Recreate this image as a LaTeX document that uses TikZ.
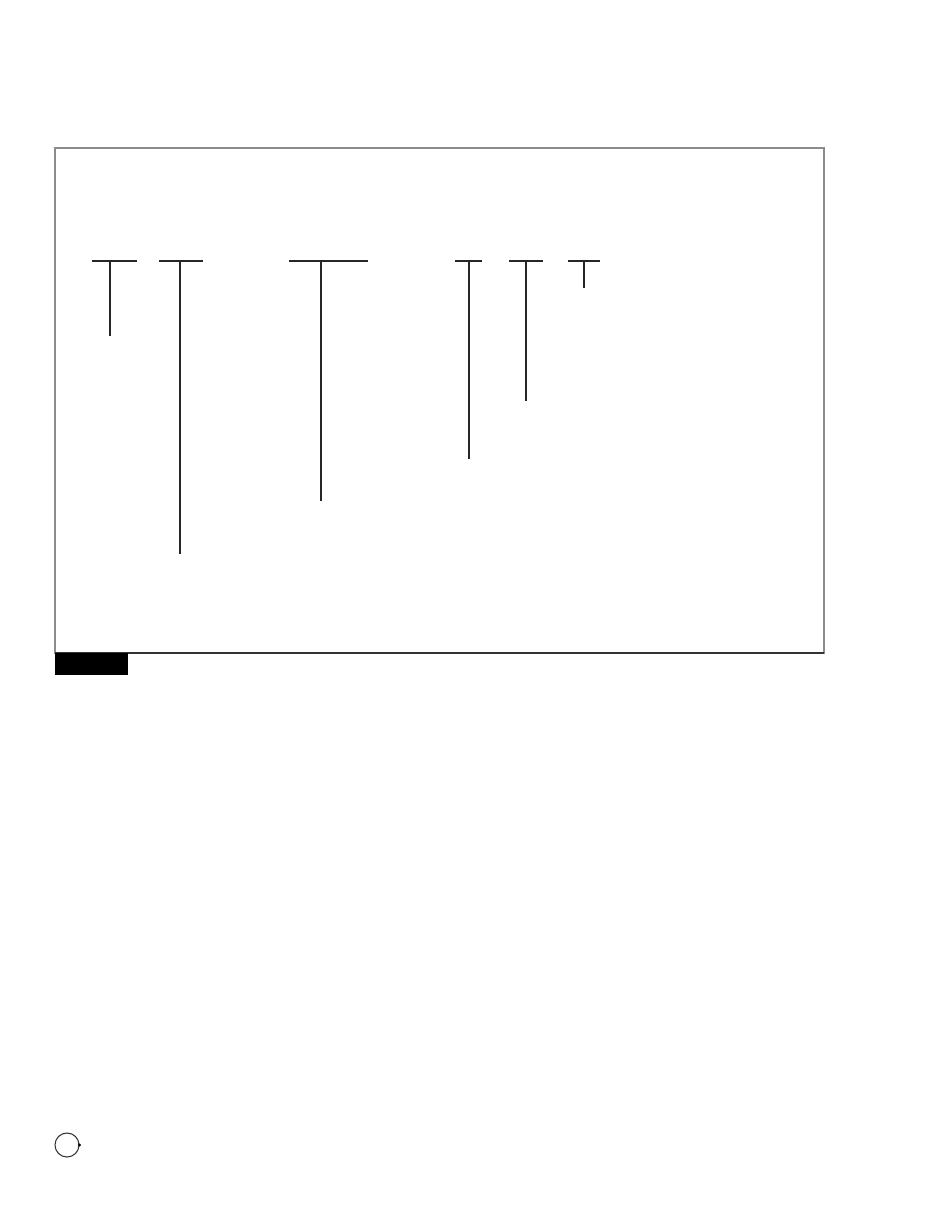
\documentclass[tikz,border=0pt]{standalone}
\usepackage{tikz}
\usetikzlibrary{positioning,calc}

\begin{document}
\begin{tikzpicture}[x=0.02cm, y=-0.02cm,
    tbar/.style={draw=black!85, line width=1.1pt},
    frameline/.style={draw=black!45, line width=0.8pt}]
    \useasboundingbox (0,0) rectangle (935,1210);

    % frame and tab
    \coordinate (fnw) at (55,148);
    \coordinate (fse) at (824,653);
    \draw [frameline] (fnw) rectangle (fse);
    \draw [draw=black!80, line width=0.8pt] (fnw |- fse) -- (fse);
    \node (tab) [fill=black, inner sep=0pt, minimum width=73*0.02cm, minimum height=22*0.02cm, anchor=north west] at (fnw |- fse) {};

    % T bars
    \draw [tbar] (92,261) -- (137,261) (110,261) -- (110,336);
    \draw [tbar] (159,261) -- (203,261) (180,261) -- (180,554);
    \draw [tbar] (289,261) -- (368,261) (321,261) -- (321,501);
    \draw [tbar] (455,261) -- (482,261) (469,261) -- (469,459);
    \draw [tbar] (509,261) -- (543,261) (526,261) -- (526,401);
    \draw [tbar] (568,261) -- (600,261) (584,261) -- (584,288);

    % page mark
    \node (mark) [draw=black!80, circle, line width=0.6pt, minimum size=24*0.02cm, inner sep=0pt] at (67,1145) {};
    \fill [black] (mark.east) circle (1.6);
\end{tikzpicture}
\end{document}
